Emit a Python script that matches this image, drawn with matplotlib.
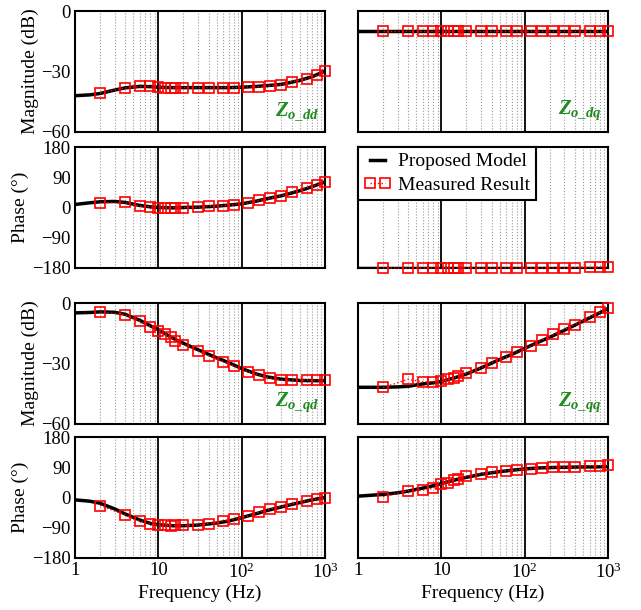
import matplotlib
matplotlib.use('Agg')
import matplotlib.pyplot as plt
from matplotlib.ticker import LogLocator, NullFormatter, FixedLocator

plt.rcParams['font.family'] = 'Liberation Serif'
plt.rcParams['mathtext.fontset'] = 'custom'
plt.rcParams['mathtext.rm'] = 'Liberation Serif'
plt.rcParams['mathtext.it'] = 'Liberation Serif:italic'
plt.rcParams['mathtext.bf'] = 'Liberation Serif:bold'
plt.rcParams['mathtext.bfit'] = 'Liberation Serif:italic:bold'

# measured frequencies (Hz)
f_meas = [2, 4, 6, 8, 10, 12, 14, 16, 20, 30, 40, 60, 80, 120, 160, 220, 300, 400, 600, 800, 1000]
# model sample frequencies (Hz)
f_model = [1, 1.5, 2, 3, 4, 6, 8, 10, 15, 20, 30, 50, 70, 100, 150, 200, 300, 500, 700, 1000]

# Zo_dd
dd_mag_meas = [-40.7, -38.2, -37.4, -37.4, -37.7, -38, -38, -38, -38, -38, -38, -38, -38,
               -37.6, -37.6, -37.1, -36.6, -35.1, -33.5, -31.9, -29.7]
dd_mag_model = [-42, -41.6, -40.9, -39.2, -38.1, -37.4, -37.5, -37.8, -38, -38, -38, -38, -38,
                -37.8, -37.4, -37, -36.4, -34.4, -32.6, -29.8]
dd_ph_meas = [14, 15, 4, 2, 0, 0, 0, 0, 0, 1, 5, 5, 8, 14, 21, 27, 35, 45, 59, 67, 76]
dd_ph_model = [9, 14, 17, 18, 15, 6, 2, 0, -1, 0, 1, 4, 7, 11, 19, 26, 35, 50, 62, 76]

# Zo_dq
dq_mag_meas = [-10] * 21
dq_mag_model = [-10] * 20
dq_ph_meas = [-180, -180, -180, -180, -180, -180, -180, -180, -180, -180, -180, -180, -180,
              -180, -180, -180, -180, -179, -178, -177, -176]
dq_ph_model = [-180] * 20

# Zo_qd
qd_mag_meas = [-4.4, -5.8, -8.9, -11.8, -13.8, -15.6, -17.1, -18.8, -20.6, -23.8, -26.1,
               -29.1, -31.2, -34, -35.7, -37.2, -38.2, -38.2, -38.2, -38.2, -38.2]
qd_mag_model = [-4.9, -4.7, -4.4, -4.6, -5.6, -8.6, -11.3, -13.3, -17.5, -20, -23.2, -27.2,
                -29.6, -32.5, -35.2, -36.6, -37.8, -38.4, -38.5, -38.5]
qd_ph_meas = [-24, -52, -70, -78, -81, -83, -84, -83, -83, -81, -78, -70, -64, -55, -44,
              -35, -27, -19, -10, -5, -1]
qd_ph_model = [-7, -11, -17, -34, -49, -67, -77, -81, -84, -84, -82, -76, -70, -60, -48,
               -39, -28, -15, -7, 0]

# Zo_qq
qq_mag_meas = [-41.9, -37.8, -39.1, -39.1, -38.8, -37.8, -37, -36.2, -34.9, -32.1, -29.8,
               -26.8, -24.3, -21.4, -18.4, -15.6, -13, -10.7, -6.9, -4.6, -2.5]
qq_mag_model = [-41.8, -41.8, -41.8, -41.6, -41.3, -40.1, -39.6, -38.9, -36.9, -35.2, -32.2,
                -28, -25.5, -22.5, -19.2, -17, -13.5, -9, -6, -2.8]
qq_ph_meas = [2, 20, 22, 27, 40, 44, 53, 56, 63, 71, 75, 80, 82, 86, 89, 90, 90, 91, 94, 95, 96]
qq_ph_model = [4, 7, 9, 14, 19, 28, 35, 41, 53, 60, 69, 77, 81, 85, 88, 89, 90, 91, 91, 92]

panels = [
    # (row, col, model, meas, kind, label)
    (0, 0, dd_mag_model, dd_mag_meas, 'mag', 'dd'),
    (1, 0, dd_ph_model, dd_ph_meas, 'ph', None),
    (0, 1, dq_mag_model, dq_mag_meas, 'mag', 'dq'),
    (1, 1, dq_ph_model, dq_ph_meas, 'ph', None),
    (2, 0, qd_mag_model, qd_mag_meas, 'mag', 'qd'),
    (3, 0, qd_ph_model, qd_ph_meas, 'ph', None),
    (2, 1, qq_mag_model, qq_mag_meas, 'mag', 'qq'),
    (3, 1, qq_ph_model, qq_ph_meas, 'ph', None),
]

W, H = 641, 610
fig = plt.figure(figsize=(W / 100, H / 100), dpi=100)

col_left = [75, 358]
row_top = [11, 147, 303, 437]
ax_w, ax_h = 250, 121

fs = 14
tfs = 13.5
green = '#1f8c1f'

for row, col, model, meas, kind, label in panels:
    l = col_left[col] / W
    b = 1 - (row_top[row] + ax_h) / H
    ax = fig.add_axes([l, b, ax_w / W, ax_h / H])
    ax.set_xscale('log')
    ax.set_xlim(1, 1000)

    ax.plot(f_model, model, color='black', lw=2.5, zorder=3, label='Proposed Model')
    ax.plot(f_meas, meas, color='red', lw=1, ls=':', marker='s', ms=7, mfc='none',
            mec='red', mew=1.2, zorder=4, clip_on=False, label='Measured Result')

    if kind == 'mag':
        ax.set_ylim(-60, 0)
        ax.set_yticks([-60, -30, 0])
        ax.yaxis.set_minor_locator(FixedLocator([-30]))
        if col == 0:
            ax.set_yticklabels(['\u221260', '\u221230', '0'])
            ax.set_ylabel('Magnitude (dB)', fontsize=fs, labelpad=2)
    else:
        ax.set_ylim(-180, 180)
        ax.set_yticks([-180, -90, 0, 90, 180])
        ax.yaxis.set_minor_locator(FixedLocator([-90, 0, 90]))
        if col == 0:
            ax.set_yticklabels(['\u2212180', '\u221290', '0', '90', '180'])
            ax.set_ylabel('Phase (\u00b0)', fontsize=fs, labelpad=2)
    if col == 1:
        ax.set_yticklabels([])

    ax.xaxis.set_major_locator(FixedLocator([1, 10, 100, 1000]))
    ax.xaxis.set_minor_locator(LogLocator(base=10, subs=range(2, 10)))
    ax.xaxis.set_minor_formatter(NullFormatter())
    if row == 3:
        ax.set_xticklabels(['1', '10', r'$10^2$', r'$10^3$'])
        ax.set_xlabel('Frequency (Hz)', fontsize=fs, labelpad=2)
    else:
        ax.set_xticklabels([])

    ax.tick_params(which='both', length=0, labelsize=tfs, pad=3)
    ax.grid(which='minor', axis='x', color='#999999', ls=':', lw=0.8)
    ax.grid(which='minor', axis='y', color='#444444', ls=':', lw=0.9)
    for fv in (10, 100):
        ax.axvline(fv, color='black', lw=1.3, zorder=2)
    for s in ax.spines.values():
        s.set_linewidth(1.5)

    if label is not None:
        ax.text(0.8, 0.08, r'$\mathbfit{Z}_{\mathbfit{o\_%s}}$' % label, transform=ax.transAxes,
                color=green, fontsize=15, ha='left', va='bottom')

    if row == 1 and col == 1:
        leg = ax.legend(loc='upper left', bbox_to_anchor=(0, 1), borderaxespad=0,
                        fontsize=fs, numpoints=2, handlelength=1.4, handletextpad=0.35,
                        fancybox=False, framealpha=1, edgecolor='black',
                        borderpad=0.3, labelspacing=0.3)
        leg.get_frame().set_linewidth(1.5)

fig.savefig('out.png', dpi=100)
